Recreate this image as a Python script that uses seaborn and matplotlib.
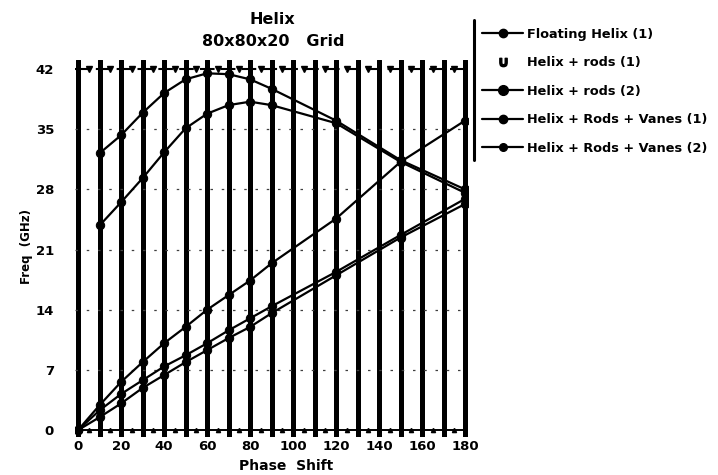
import pandas as pd
import seaborn as sns
import matplotlib.pyplot as plt
from matplotlib.lines import Line2D

# phase shift points (deg)
phase_upper = [10, 20, 30, 40, 50, 60, 70, 80, 90, 120, 150, 180]
phase_lower = [0, 10, 20, 30, 40, 50, 60, 70, 80, 90, 120, 150, 180]

# frequency (GHz)
floating_helix_1 = [0, 2.9, 5.6, 7.9, 10.1, 12.0, 14.0, 15.7, 17.4, 19.4, 24.6, 31.2, 36.0]
helix_rods_1 = [0, 2.3, 4.2, 5.8, 7.4, 8.7, 10.1, 11.6, 13.0, 14.4, 18.4, 22.7, 26.9]
helix_rods_2 = [32.2, 34.3, 36.9, 39.2, 40.8, 41.5, 41.4, 40.8, 39.7, 36.0, 31.4, 28.0]
helix_rods_vanes_1 = [0, 1.5, 3.1, 4.9, 6.4, 7.9, 9.3, 10.7, 12.0, 13.6, 18.0, 22.4, 26.3]
helix_rods_vanes_2 = [23.8, 26.5, 29.3, 32.3, 35.1, 36.8, 37.8, 38.2, 37.8, 35.7, 31.2, 27.6]

labels = ["Floating Helix (1)", "Helix + rods (1)", "Helix + rods (2)",
          "Helix + Rods + Vanes (1)", "Helix + Rods + Vanes (2)"]
y_ticks = [0, 7, 14, 21, 28, 35, 42]
x_ticks = [0, 20, 40, 60, 80, 100, 120, 140, 160, 180]

sns.set_style("white")
plt.rcParams['font.family'] = ['DejaVu Sans']
plt.rcParams['font.weight'] = 'bold'
for key in ["text.color", "axes.labelcolor", "xtick.color", "ytick.color"]:
    plt.rcParams[key] = "black"

fig = plt.figure(figsize=(7.18, 4.75), dpi=100)
ax = fig.add_axes([0.1042, 0.08, 0.548, 0.7937])

series = [
    (phase_lower, floating_helix_1),
    (phase_lower, helix_rods_1),
    (phase_upper, helix_rods_2),
    (phase_lower, helix_rods_vanes_1),
    (phase_upper, helix_rods_vanes_2),
]
for (xs, ys), lab in zip(series, labels):
    df = pd.DataFrame({"phase": xs, "freq": ys})
    sns.lineplot(data=df, x="phase", y="freq", ax=ax, color="black",
                 marker="o", markersize=6, markeredgecolor="black",
                 linewidth=1.6, legend=False, zorder=4)

ax.set_xlim(-1.5, 181.5)
ax.set_ylim(-0.8, 43.05)
ax.set_xticks(x_ticks)
ax.set_xticks(range(0, 181, 10), minor=True)
ax.set_yticks(y_ticks)
ax.set_xticklabels([str(t) for t in x_ticks], fontsize=9.5, fontweight="bold")
ax.set_yticklabels([str(t) for t in y_ticks], fontsize=9.5, fontweight="bold")
ax.tick_params(axis="x", which="both", length=0, pad=2)
ax.tick_params(axis="y", length=4, width=1.5, direction="out", pad=11)
for s in ax.spines.values():
    s.set_visible(False)

# heavy vertical grid every 10 degrees
ax.grid(False)
ax.xaxis.grid(True, which="both", color="black", linewidth=3.6, zorder=2)
ax.set_axisbelow(True)
for yv in y_ticks[1:-1]:
    ax.axhline(yv, color="0.25", linewidth=0.9, linestyle=(0, (2, 7)), zorder=1)

# top and bottom border lines with small ticks
mid = list(range(5, 180, 10))
ax.axhline(42, color="black", linewidth=1.5, linestyle=(0, (7, 3)), zorder=3)
ax.plot(mid, [42] * len(mid), linestyle="none", marker="v", markersize=4,
        color="black", zorder=3)
ax.axhline(0, color="black", linewidth=1.4, zorder=3)
ax.plot(mid, [0] * len(mid), linestyle="none", marker="^", markersize=3,
        color="black", zorder=3)

ax.set_xlabel("")
ax.set_ylabel("")
fig.text(0.38, 0.96, "Helix", ha="center", va="center", fontsize=11.5, fontweight="bold")
fig.text(0.38, 0.912, "80x80x20   Grid", ha="center", va="center", fontsize=11.5, fontweight="bold")
fig.text(0.398, 0.019, "Phase  Shift", ha="center", va="center", fontsize=10, fontweight="bold")
fig.text(0.0376, 0.48, "Freq  (GHz)", ha="center", va="center", rotation=90,
         fontsize=8.5, fontweight="bold")

# legend
handles = [
    Line2D([], [], color="black", marker="o", markersize=6, linewidth=1.6),
    Line2D([], [], color="black", marker=r"$\cup$", markersize=6, linestyle="none"),
    Line2D([], [], color="black", marker="o", markersize=7, linewidth=1.6),
    Line2D([], [], color="black", marker="o", markersize=6, linewidth=1.6),
    Line2D([], [], color="black", marker="o", markersize=5.5, linewidth=1.6),
]
fig.legend(handles, labels, loc="upper left", bbox_to_anchor=(0.664, 0.952),
           frameon=False, handlelength=3.2, handletextpad=0.3,
           labelspacing=1.2, borderaxespad=0, prop={"weight": "bold", "size": 9.3})
fig.add_artist(Line2D([0.66, 0.66], [1 - 20 / 475, 1 - 160 / 475],
                      transform=fig.transFigure, color="black", linewidth=2.2))

fig.savefig("out.png", dpi=100, facecolor="white")
